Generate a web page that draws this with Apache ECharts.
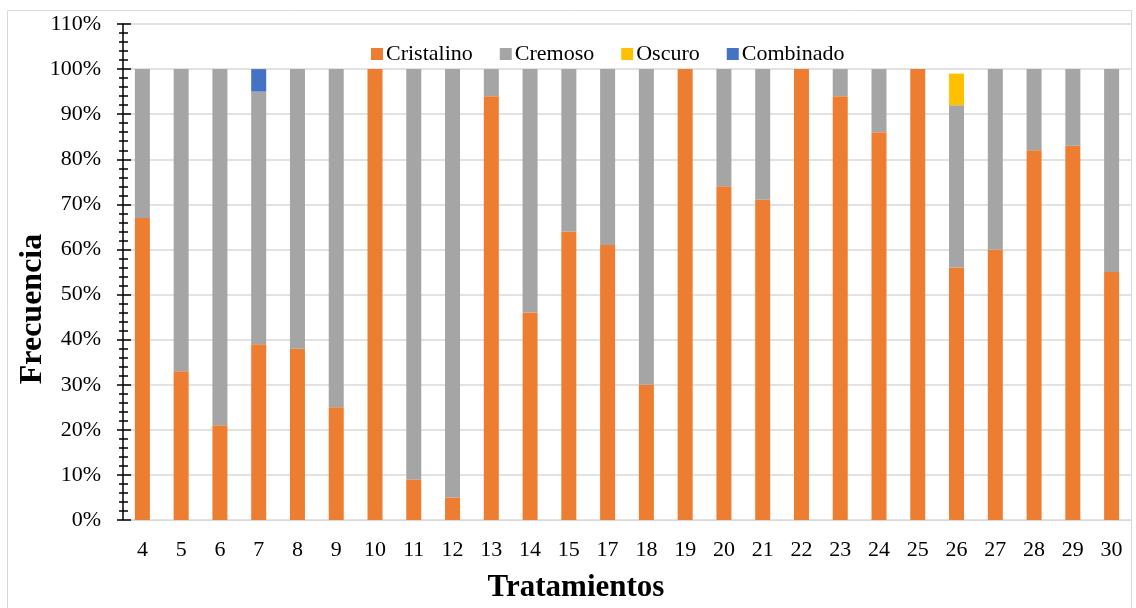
<!DOCTYPE html>
<html><head><meta charset="utf-8">
<script src="https://cdn.jsdelivr.net/npm/echarts@6/dist/echarts.min.js"></script>
<style>html,body{margin:0;padding:0;background:#fff}#c{width:1136px;height:608px}</style>
</head><body><div id="c"></div>
<script>
const categories = ['4','5','6','7','8','9','10','11','12','13','14','15','17','18','19','20','21','22','23','24','25','26','27','28','29','30'];
const cristalino = [67,33,21,39,38,25,100,9,5,94,46,64,61,30,100,74,71,100,94,86,100,56,60,82,83,55];
const cremoso    = [33,67,79,56,62,75,0,91,95,6,54,36,39,70,0,26,29,0,6,14,0,36,40,18,17,45];
const oscuro     = [0,0,0,0,0,0,0,0,0,0,0,0,0,0,0,0,0,0,0,0,0,7,0,0,0,0];
const combinado  = [0,0,0,5,0,0,0,0,0,0,0,0,0,0,0,0,0,0,0,0,0,0,0,0,0,0];
const seriesNames = ['Cristalino','Cremoso','Oscuro','Combinado'];
const colors = ['#ED7D31','#A5A5A5','#FFC000','#4472C4'];
const F = '"Liberation Serif","Times New Roman",serif';

const chart = echarts.init(document.getElementById('c'));
const dataSets = [cristalino, cremoso, oscuro, combinado];
chart.setOption({
  animation:false,
  textStyle:{fontFamily:F},
  graphic:[
    {type:'rect',shape:{x:7.5,y:10.5,width:1124,height:610},style:{fill:null,stroke:'#d9d9d9',lineWidth:1},z:-1},
    {type:'text',x:576,y:588,style:{text:'Tratamientos',font:'bold 31px '+F,fill:'#000',textAlign:'center',textVerticalAlign:'middle'}},
    {type:'text',x:33,y:309,rotation:Math.PI/2,style:{text:'Frecuencia',font:'bold 32px '+F,fill:'#000',textAlign:'center',textVerticalAlign:'middle'}}
  ],
  legend:{
    top:38,left:366,itemWidth:12,itemHeight:12,itemGap:27,icon:'rect',
    data:seriesNames,
    textStyle:{fontFamily:F,fontSize:22,color:'#000',padding:[0,0,0,-2]}
  },
  grid:{left:123,right:5,top:24,bottom:88},
  xAxis:{
    type:'category',data:categories,
    axisLine:{lineStyle:{color:'#d9d9d9'}},
    axisTick:{show:false},
    axisLabel:{fontFamily:F,fontSize:22,color:'#000',margin:19}
  },
  yAxis:[{
    type:'value',min:0,max:110,interval:10,
    axisLine:{show:true,lineStyle:{color:'#000',width:1.5}},
    axisTick:{show:true,length:6,lineStyle:{color:'#000',width:1.5}},
    minorTick:{show:true,splitNumber:5,length:4,lineStyle:{color:'#000',width:1.5}},
    splitLine:{lineStyle:{color:'#d9d9d9',width:1.5}},
    axisLabel:{formatter:'{value}%',fontFamily:F,fontSize:22,color:'#000',margin:22}
  },{
    type:'value',min:0,max:110,interval:10,position:'left',
    axisLine:{show:false},
    axisTick:{show:true,inside:true,length:8,lineStyle:{color:'#000',width:1.5}},
    minorTick:{show:true,splitNumber:5,length:5,lineStyle:{color:'#000',width:1.5}},
    splitLine:{show:false},
    axisLabel:{show:false}
  }],
  series: seriesNames.map((n,i)=>({
    name:n,type:'bar',stack:'t',barWidth:15,
    itemStyle:{color:colors[i]},
    data:dataSets[i]
  }))
});
</script></body></html>
